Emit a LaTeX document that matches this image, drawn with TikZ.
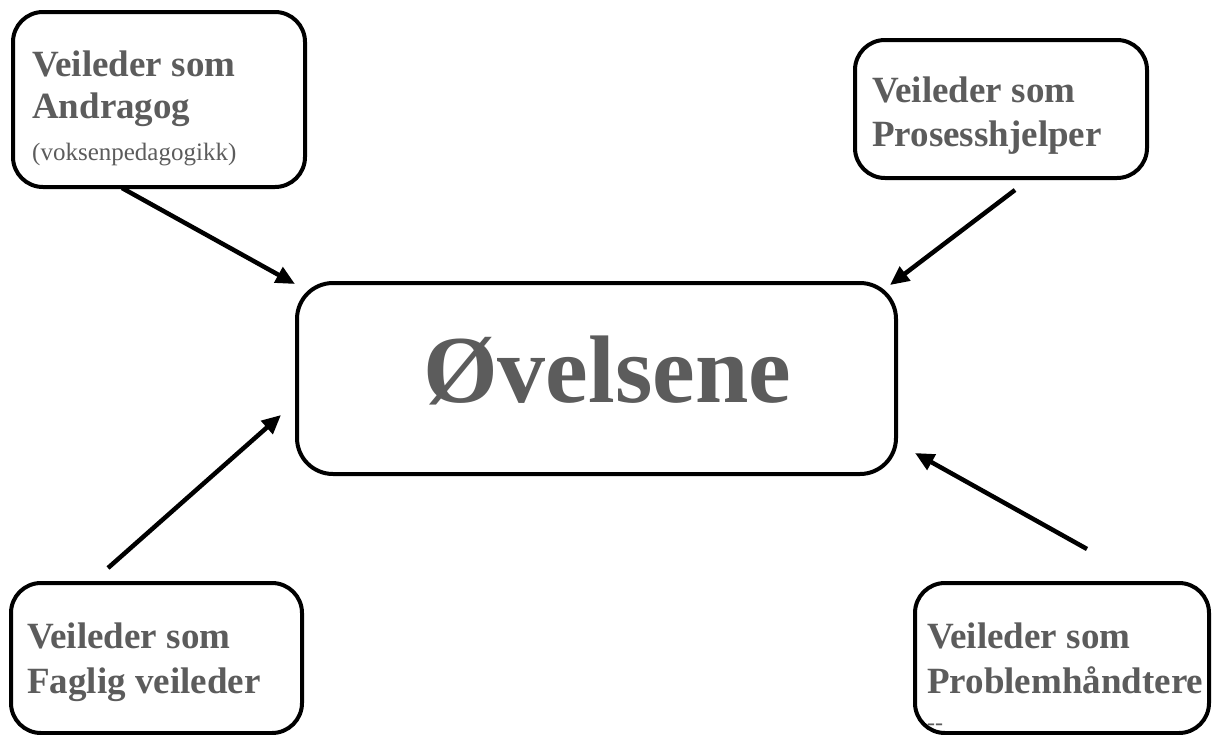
\documentclass[tikz,border=0pt]{standalone}
\usepackage{fontspec}
\setmainfont{Liberation Serif}
\usetikzlibrary{arrows.meta}
\definecolor{txt}{RGB}{92,92,92}
\begin{document}
\begin{tikzpicture}[x=1pt,y=-1pt,
  boxstyle/.style={draw=black, line width=4pt, rounded corners=30pt, fill=white, inner sep=0pt},
  bigline/.style={anchor=base west, inner sep=0pt, text=txt, font=\fontsize{37}{44}\selectfont\bfseries},
  smallline/.style={anchor=base west, inner sep=0pt, text=txt, font=\fontsize{25}{30}\selectfont},
  conn/.style={line width=4.5pt, -{Triangle[length=19pt,width=17pt]}}
]
\useasboundingbox (0,0) rectangle (1212,734);
% boxes
\node[boxstyle, minimum width=292pt, minimum height=175pt] (tl) at (159,99.5) {};
\node[boxstyle, minimum width=292pt, minimum height=138pt] (tr) at (1001,109) {};
\node[boxstyle, minimum width=291pt, minimum height=150pt] (bl) at (156.5,658) {};
\node[boxstyle, minimum width=294pt, minimum height=150pt] (br) at (1062,658) {};
\node[boxstyle, rounded corners=36pt, minimum width=599pt, minimum height=191pt] (c) at (596.5,378.5) {};
% texts
\node[bigline] (tl1) at (32,76) {Veileder som};
\node[bigline] (tl2) at (32,118) {Andragog};
\node[smallline] (tl3) at (32,160) {(voksenpedagogikk)};
\node[bigline] (tr1) at (872,102) {Veileder som};
\node[bigline] (tr2) at (872,146) {Prosesshjelper};
\node[bigline] (bl1) at (27,648) {Veileder som};
\node[bigline] (bl2) at (27,693) {Faglig veileder};
\node[bigline] (br1) at (927,648) {Veileder som};
\node[bigline] (br2) at (927,693) {Problemhåndtere};
\node[anchor=base west, inner sep=0pt, text=txt, font=\fontsize{24}{28}\selectfont] (br3) at (927,730) {-{}-};
\node[anchor=base, inner sep=0pt, text=txt, font=\fontsize{96}{100}\selectfont\bfseries] (ctext) at (607,402) {Øvelsene};
% connector ends
\coordinate (a1) at (122,188);
\coordinate (t1) at (295,284);
\coordinate (a2) at (1015,190);
\coordinate (t2) at (890,285);
\coordinate (a3) at (108,568);
\coordinate (t3) at (281,415);
\coordinate (a4) at (1087,549);
\coordinate (t4) at (915,453);
\draw[conn] (a1) -- (t1);
\draw[conn] (a2) -- (t2);
\draw[conn] (a3) -- (t3);
\draw[conn] (a4) -- (t4);
\end{tikzpicture}
\end{document}
